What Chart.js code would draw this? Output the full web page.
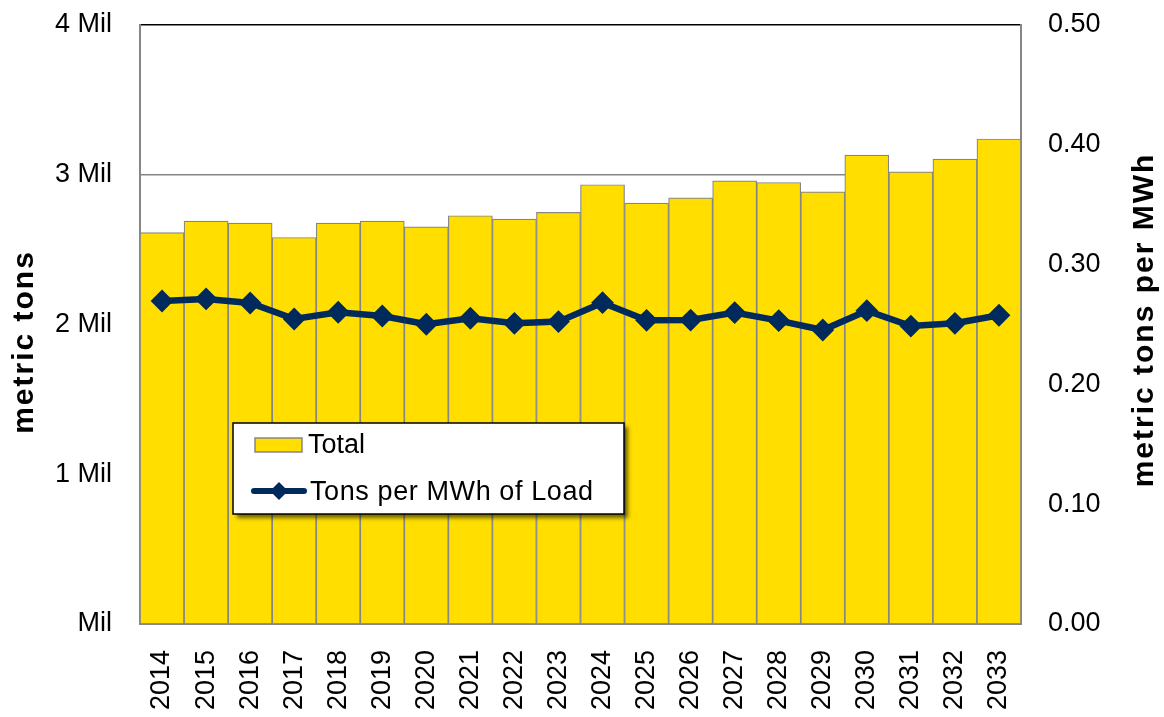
<!DOCTYPE html>
<html>
<head>
<meta charset="utf-8">
<script src="https://cdn.jsdelivr.net/npm/chart.js@4/dist/chart.umd.min.js"></script>
<style>
html,body{margin:0;padding:0;background:#fff;}
#wrap{width:1164px;height:717px;position:relative;}
</style>
</head>
<body>
<div id="wrap"><canvas id="c" width="1164" height="717"></canvas></div>
<script>
const years = ['2014','2015','2016','2017','2018','2019','2020','2021','2022','2023','2024','2025','2026','2027','2028','2029','2030','2031','2032','2033'];
const totalTons = [2612000,2688000,2675000,2579000,2675000,2688000,2650000,2724000,2702000,2746000,2931000,2808000,2844000,2957000,2946000,2884000,3129000,3017000,3102000,3236000];
const tonsPerMWh = [0.2694,0.2711,0.2677,0.2544,0.2600,0.2569,0.2500,0.2550,0.2508,0.2522,0.2680,0.2533,0.2535,0.2597,0.2530,0.2452,0.2613,0.2485,0.2508,0.2575];
const leftTicks = [0,1000000,2000000,3000000,4000000];
const rightTicks = [0,0.1,0.2,0.3,0.4,0.5];
const leftTitle = 'metric tons';
const rightTitle = 'metric tons per MWh';

const YELLOW = '#FFDE00';
const NAVY = '#002A5C';
const GRAY = '#868686';
const FONT = '"Liberation Sans", Arial, sans-serif';

const decor = {
  id: 'decor',
  afterDraw(chart) {
    const ctx = chart.ctx;
    ctx.save();
    ctx.fillStyle = '#000';
    ctx.font = 'bold 30px ' + FONT;
    try { ctx.letterSpacing = '2px'; } catch(e) {}
    ctx.textAlign = 'center';
    ctx.textBaseline = 'alphabetic';
    ctx.save();
    ctx.translate(33, 342);
    ctx.rotate(-Math.PI / 2);
    ctx.fillText(leftTitle, 0, 0);
    ctx.restore();
    ctx.save();
    ctx.translate(1153, 320);
    ctx.rotate(-Math.PI / 2);
    ctx.fillText(rightTitle, 0, 0);
    ctx.restore();
    ctx.restore();

    const ds = chart.data.datasets;
    const bx = 233, by = 423, bw = 391, bh = 91;
    ctx.save();
    ctx.shadowColor = 'rgba(0,0,0,0.55)';
    ctx.shadowBlur = 4;
    ctx.shadowOffsetX = 4;
    ctx.shadowOffsetY = 4;
    ctx.fillStyle = '#fff';
    ctx.fillRect(bx, by, bw, bh);
    ctx.restore();
    ctx.save();
    ctx.strokeStyle = '#000';
    ctx.lineWidth = 1.5;
    ctx.strokeRect(bx, by, bw, bh);
    ctx.fillStyle = YELLOW;
    ctx.fillRect(255, 438, 47, 14);
    ctx.strokeStyle = GRAY;
    ctx.lineWidth = 1.5;
    ctx.strokeRect(255, 438, 47, 14);
    ctx.fillStyle = '#000';
    ctx.font = '27px ' + FONT;
    ctx.textAlign = 'left';
    ctx.textBaseline = 'middle';
    const barDs = ds.find(d => d.type === 'bar');
    const lineDs = ds.find(d => d.type === 'line');
    ctx.fillText(barDs.label, 308, 446);
    ctx.strokeStyle = NAVY;
    ctx.lineWidth = 6;
    ctx.lineCap = 'round';
    ctx.beginPath();
    ctx.moveTo(254, 491);
    ctx.lineTo(304, 491);
    ctx.stroke();
    ctx.fillStyle = NAVY;
    ctx.beginPath();
    ctx.moveTo(279 - 9, 491);
    ctx.lineTo(279, 491 - 9);
    ctx.lineTo(279 + 9, 491);
    ctx.lineTo(279, 491 + 9);
    ctx.closePath();
    ctx.fill();
    ctx.fillStyle = '#000';
    try { ctx.letterSpacing = '0.6px'; } catch(e) {}
    ctx.fillText(lineDs.label, 310, 493);
    ctx.restore();
  }
};

new Chart(document.getElementById('c'), {
  data: {
    labels: years,
    datasets: [
      {
        type: 'line',
        label: 'Tons per MWh of Load',
        data: tonsPerMWh,
        yAxisID: 'y2',
        borderColor: NAVY,
        backgroundColor: NAVY,
        borderWidth: 6.5,
        pointStyle: 'rectRot',
        pointRadius: 10,
        pointBorderWidth: 2,
        pointBackgroundColor: NAVY,
        pointBorderColor: NAVY,
        tension: 0,
        order: 0
      },
      {
        type: 'bar',
        label: 'Total',
        data: totalTons,
        yAxisID: 'y',
        backgroundColor: YELLOW,
        borderColor: GRAY,
        borderWidth: 1.2,
        barPercentage: 1,
        categoryPercentage: 1,
        order: 1
      }
    ]
  },
  options: {
    responsive: false,
    animation: false,
    devicePixelRatio: 1,
    layout: { padding: { top: 24.5, left: 0, right: 0, bottom: 0 } },
    plugins: {
      legend: { display: false },
      tooltip: { enabled: false },
      title: { display: false }
    },
    scales: {
      x: {
        grid: { display: false, drawTicks: false },
        border: { display: true, color: GRAY, width: 2 },
        ticks: {
          color: '#000',
          font: { family: FONT, size: 27 },
          maxRotation: 90,
          minRotation: 90,
          autoSkip: false,
          padding: 26
        },
        afterFit(s) { s.height = 93; }
      },
      y: {
        position: 'left',
        min: 0,
        max: 4000000,
        afterBuildTicks(s) { s.ticks = leftTicks.map(v => ({ value: v })); },
        grid: {
          drawTicks: false,
          lineWidth: 1.5,
          color: (c) => (c.tick && c.tick.value === 4000000) ? '#000' : GRAY
        },
        border: { display: true, color: GRAY, width: 2 },
        ticks: {
          color: '#000',
          font: { family: FONT, size: 27 },
          padding: 28,
          callback: (v) => v === 0 ? 'Mil' : (v / 1000000) + ' Mil'
        },
        afterFit(s) { s.width = 140; s.paddingTop = 0; s.paddingBottom = 0; }
      },
      y2: {
        position: 'right',
        min: 0,
        max: 0.5,
        afterBuildTicks(s) { s.ticks = rightTicks.map(v => ({ value: v })); },
        grid: { display: false, drawTicks: false },
        border: { display: true, color: GRAY, width: 2 },
        ticks: {
          color: '#000',
          font: { family: FONT, size: 27 },
          padding: 27,
          callback: (v) => Number(v).toFixed(2)
        },
        afterFit(s) { s.width = 143; s.paddingTop = 0; s.paddingBottom = 0; }
      }
    }
  },
  plugins: [decor]
});
</script>
</body>
</html>
